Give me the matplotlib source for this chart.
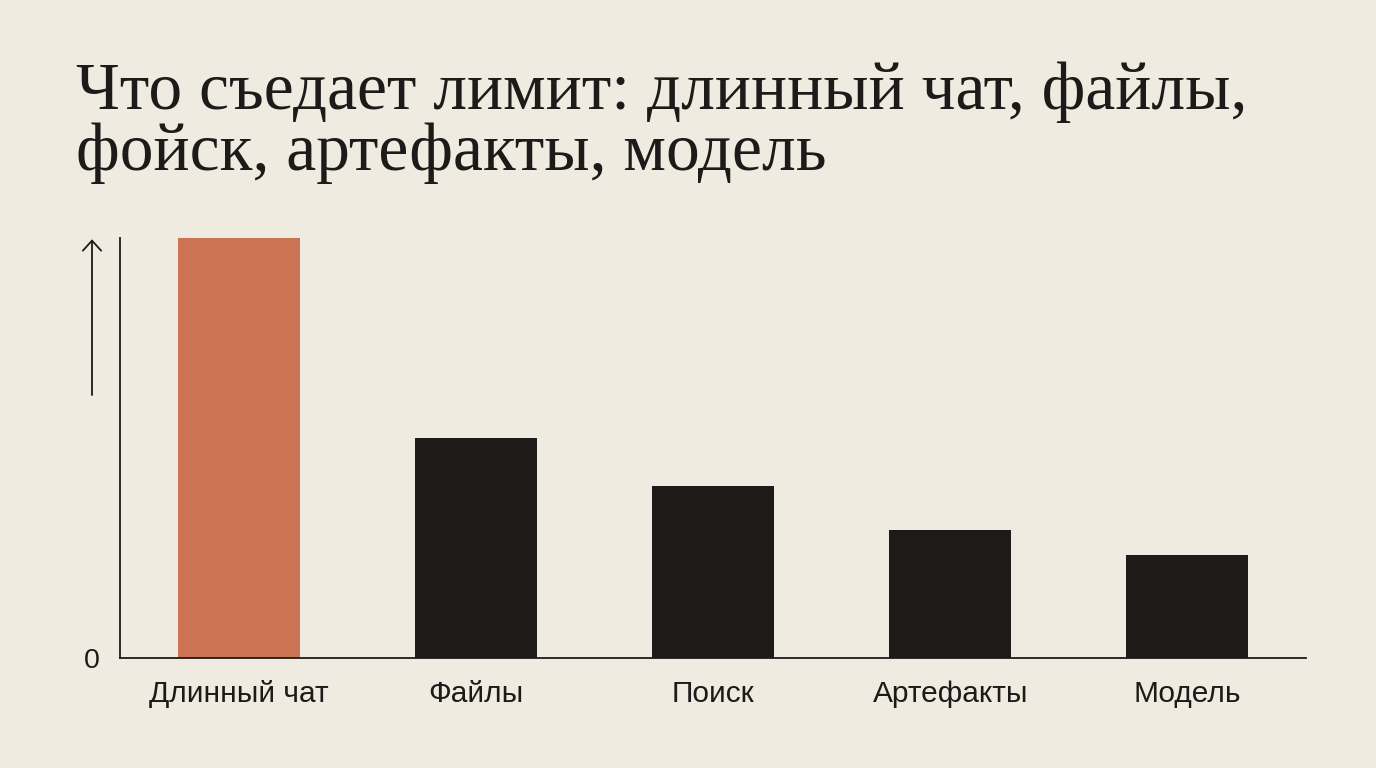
import matplotlib
matplotlib.use("Agg")
import matplotlib.pyplot as plt

# ------------------------------------------------------------------ #
# Data
# ------------------------------------------------------------------ #
categories = ["Длинный чат", "Файлы", "Поиск", "Артефакты", "Модель"]
values = [100, 52.5, 41, 30.5, 24.5]
highlight = 0

TITLE_LINES = ["Что съедает лимит: длинный чат, файлы,",
               "фойск, артефакты, модель"]

BG = "#efebe1"
INK = "#1c1b19"
ACCENT = "#cc7353"

fig = plt.figure(figsize=(13.76, 7.68), dpi=100, facecolor=BG)
ax = fig.add_axes([120 / 1376, 110 / 768, 1186 / 1376, 420 / 768])
ax.set_facecolor(BG)

colors = [ACCENT if i == highlight else INK for i in range(len(values))]
x = range(len(categories))
ax.bar(x, values, width=0.515, color=colors)

ax.set_xlim(-0.5, 4.5)
ax.set_ylim(0, 100)

for side in ["top", "right"]:
    ax.spines[side].set_visible(False)
for side in ["left", "bottom"]:
    ax.spines[side].set_color(INK)
    ax.spines[side].set_linewidth(1.3)

ax.set_xticks(list(x))
ax.set_xticklabels(categories, fontsize=21.5, color=INK, family="Liberation Sans")
ax.tick_params(axis="x", length=0, pad=16)
ax.set_yticks([])

# "0" at the baseline
ax.text(-0.0236, -0.006, "0", transform=ax.transAxes,
        ha="center", va="center", fontsize=20.5, color=INK, family="Liberation Sans")

# up arrow on the left
ax.annotate("", xy=(-0.0236, 0.997), xytext=(-0.0236, 0.626),
            xycoords="axes fraction", textcoords="axes fraction",
            arrowprops=dict(arrowstyle="->, head_length=0.33, head_width=0.3",
                            color=INK, lw=1.3, mutation_scale=22,
                            shrinkA=0, shrinkB=0))

# title, two lines placed by baseline
for line, base in zip(TITLE_LINES, [109, 170]):
    fig.text(76 / 1376, 1 - base / 768, line, ha="left", va="baseline",
             fontsize=48.5, color=INK, family="Liberation Serif")

fig.savefig("out.png", dpi=100, facecolor=BG)
